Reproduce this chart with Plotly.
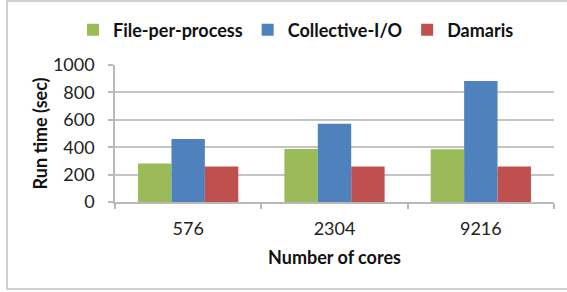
import plotly.graph_objects as go

categories = ["576", "2304", "9216"]
file_per_process = [281, 386, 385]
collective_io = [459, 572, 883]
damaris = [259, 259, 259]
y_ticks = [0, 200, 400, 600, 800, 1000]

FONT = "Lato"
FS = 18
W, H = 567, 292
L, T, PW, PH = 115, 65, 439, 137

fig = go.Figure()
fig.add_trace(go.Bar(name="File-per-process", x=categories, y=file_per_process,
                     marker=dict(color="#9BBB59", line=dict(width=0))))
fig.add_trace(go.Bar(name="Collective-I/O", x=categories, y=collective_io,
                     marker=dict(color="#4F81BD", line=dict(width=0))))
fig.add_trace(go.Bar(name="Damaris", x=categories, y=damaris,
                     marker=dict(color="#C0504D", line=dict(width=0))))

fig.update_layout(
    width=W, height=H,
    margin=dict(l=L, r=W - L - PW, t=T, b=H - T - PH, autoexpand=False),
    paper_bgcolor="white", plot_bgcolor="white",
    barmode="group", bargap=0.315, bargroupgap=0,
    font=dict(family=FONT, size=FS, color="#222222"),
    legend=dict(orientation="h", xref="paper", x=(73 - L) / PW, xanchor="left",
                yref="paper", y=(T + PH - 30) / PH, yanchor="middle",
                font=dict(family=FONT, size=FS, color="#111111", weight="bold"),
                itemwidth=30, tracegroupgap=0, bgcolor="rgba(0,0,0,0)"),
    xaxis=dict(
        type="category", showline=True, linecolor="#b8b8b8", linewidth=1.5,
        ticks="outside", tickson="boundaries", ticklen=5, tickcolor="#b8b8b8", tickwidth=1.5,
        ticklabelstandoff=10,
        tickfont=dict(family=FONT, size=FS, color="#222222"), automargin=False,
        title=dict(text="Number of cores", font=dict(family=FONT, size=FS, color="#111111", weight="bold"), standoff=13),
        showgrid=False,
    ),
    yaxis=dict(
        range=[0, 1000], tickvals=y_ticks, showline=True, linecolor="#b8b8b8", linewidth=1.5,
        ticks="outside", ticklen=5, tickcolor="#b8b8b8", tickwidth=1.5, automargin=False,
        ticklabelstandoff=10,
        showgrid=True, gridcolor="#c4c4c4", gridwidth=1.8, zeroline=False,
        tickfont=dict(family=FONT, size=FS, color="#222222"),
        title=dict(text="Run time (sec)", font=dict(family=FONT, size=FS, color="#111111", weight="bold"), standoff=1),
    ),
    shapes=[dict(type="rect", xref="paper", yref="paper",
                 x0=(7 - L) / PW, x1=(W + 5 - L) / PW,
                 y0=(T + PH - 289) / PH, y1=(T + PH - 1) / PH,
                 line=dict(color="#cfcfcf", width=2), fillcolor="rgba(0,0,0,0)", layer="below")],
)

fig.write_html("out.html", config={"displayModeBar": False},
               post_script="document.body.style.margin='0';")
